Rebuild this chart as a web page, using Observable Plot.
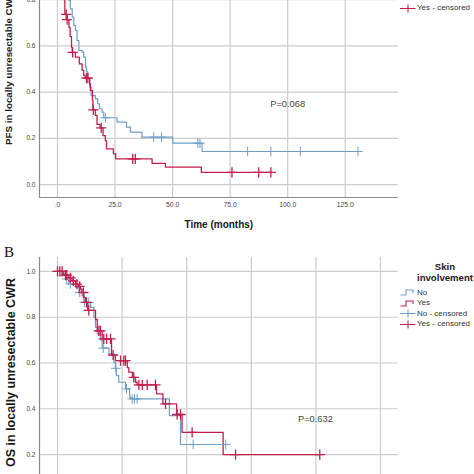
<!DOCTYPE html>
<html><head><meta charset="utf-8">
<script src="https://cdn.jsdelivr.net/npm/d3@7"></script>
<script src="https://cdn.jsdelivr.net/npm/@observablehq/plot@0.6"></script>
<style>
html,body{margin:0;padding:0;background:#fff;}
#wrap{position:relative;width:474px;height:474px;overflow:hidden;background:#fff;font-family:"Liberation Sans",Arial,sans-serif;}
#wrap svg.plotsvg{position:absolute;left:0;}
.ptop g[aria-label="x-axis label"] text{font-size:10px;font-weight:bold;fill:#1a1a1a;}
.ptop g[aria-label="y-axis label"] text{font-size:9.8px;font-weight:bold;fill:#1a1a1a;}
.pbot g[aria-label="y-axis label"] text{font-size:12.5px;font-weight:bold;fill:#1a1a1a;}
.lg{position:absolute;white-space:nowrap;color:#333;font-size:8px;line-height:10px;}
.lgt{position:absolute;white-space:nowrap;color:#1a1a1a;font-size:9.6px;font-weight:bold;line-height:11px;text-align:center;width:80px;}
.lgi{position:absolute;}
#blabel{position:absolute;left:4px;top:244px;font-family:"Liberation Serif","DejaVu Serif",serif;font-size:15px;color:#111;}
</style></head><body><div id="wrap"></div>
<script>
// ---------- data ----------
const groups = ["No", "Yes"];
const groupColors = ["#6f9fc8", "#c21f4c"];
const xTicks = [0, 25, 50, 75, 100, 125];
const yTicksTop = [0, 0.2, 0.4, 0.6, 0.8];      // 1.0 lies above the cropped top edge
const yTicksBottom = [0.2, 0.4, 0.6, 0.8, 1.0]; // 0.0 lies below the cropped bottom edge
const legendTitle = ["Skin", "involvement"];
const legendItems = ["No", "Yes", "No - censored", "Yes - censored"];

// PFS panel (A)
const pfsTitleX = "Time (months)";
const pfsTitleY = "PFS in locally unresectable CWR";
const pfsP = "P=0.068";
const pfsNoTime = [0, 0.5, 1.2, 2, 2.8, 3.5, 4.2, 4.9, 5.6, 6.4, 7.1, 7.8, 8.5, 9.3, 10.7, 11.4, 12.2, 12.6, 13.2, 14.0, 14.6, 16.5, 17.5, 18.2, 19.4, 20.1, 25.9, 30.0, 31.7, 36.7, 50.1, 62.8];
const pfsNoSurv = [1, 0.985, 0.97, 0.94, 0.91, 0.87, 0.84, 0.797, 0.76, 0.724, 0.688, 0.667, 0.623, 0.58, 0.573, 0.551, 0.508, 0.487, 0.458, 0.421, 0.385, 0.371, 0.349, 0.328, 0.313, 0.289, 0.27, 0.248, 0.227, 0.205, 0.179, 0.143];
const pfsNoCens = [20.8, 41.8, 45.2, 61.0, 61.9, 82.6, 92.7, 105.5, 130.5];
const pfsYesTime = [0, 0.5, 1, 1.5, 2, 2.4, 2.7, 3.2, 4.2, 5.0, 5.5, 6.1, 6.4, 7.8, 9.5, 10.7, 11.4, 12.0, 14.0, 14.3, 15.2, 15.4, 16.5, 17.2, 18.5, 19.8, 20.8, 21.3, 24.3, 25.3, 41.1, 46.9, 62.5];
const pfsYesSurv = [1, 0.98, 0.96, 0.93, 0.89, 0.85, 0.8, 0.736, 0.713, 0.68, 0.64, 0.594, 0.572, 0.551, 0.522, 0.494, 0.472, 0.46, 0.436, 0.407, 0.364, 0.323, 0.299, 0.26, 0.245, 0.212, 0.19, 0.154, 0.133, 0.111, 0.092, 0.075, 0.053];
const pfsYesCens = [3.8, 4.2, 6.6, 12.6, 13.2, 15.6, 19.0, 32.7, 33.8, 75.8, 87.4, 92.7];

// OS panel (B)
const osTitleY = "OS in locally unresectable CWR";
const osP = "P=0.632";
const osNoTime = [0, 1.8, 3.1, 4.4, 7.0, 8.3, 9.5, 10.2, 12.8, 14.1, 14.7, 15.4, 16.6, 17.3, 19.9, 21.8, 22.4, 22.8, 23.7, 26.3, 27.9, 28.6, 43.3, 47.6];
const osNoSurv = [1, 0.988, 0.967, 0.945, 0.93, 0.908, 0.894, 0.865, 0.843, 0.8, 0.756, 0.727, 0.7, 0.665, 0.64, 0.603, 0.577, 0.545, 0.516, 0.487, 0.45, 0.443, 0.37, 0.244];
const osNoCens = [3.6, 5.0, 8.6, 10.4, 12.1, 17.7, 22.6, 26.7, 28.9, 29.8, 30.8, 52.5, 65.1];
const osYesTime = [0, 2.4, 4.4, 5.6, 7.0, 8.0, 8.9, 9.5, 10.2, 10.8, 11.7, 14.7, 15.4, 17.3, 20.9, 22.4, 27.0, 27.6, 29.0, 30.2, 30.8, 38.3, 40.8, 46.1, 48.2, 64.1];
const osYesSurv = [1, 0.984, 0.972, 0.959, 0.945, 0.935, 0.923, 0.908, 0.887, 0.865, 0.83, 0.79, 0.74, 0.705, 0.635, 0.61, 0.58, 0.56, 0.537, 0.516, 0.504, 0.465, 0.421, 0.375, 0.297, 0.2];
const osYesCens = [0, 0.9, 1.8, 3.1, 3.6, 5.0, 6.1, 7.5, 8.6, 10.0, 11.2, 12.1, 16.0, 16.6, 17.9, 19.0, 20.5, 21.5, 24.4, 25.7, 26.3, 29.5, 31.5, 32.8, 34.7, 37.9, 41.8, 46.3, 47.6, 52.1, 68.9, 101.5];

// ---------- helpers ----------
function km(times, surv, cens, group) {
  const end = Math.max(times[times.length - 1], ...cens);
  const pts = times.map((t, i) => ({t, s: surv[i], group}));
  pts.push({t: end, s: surv[surv.length - 1], group});
  const at = t => { let v = surv[0]; for (let i = 0; i < times.length; i++) if (times[i] <= t) v = surv[i]; return v; };
  const cs = cens.map(t => ({t, s: at(t), group}));
  return {pts, cs};
}
const fmtX = d => d === 0 ? ".0" : d.toFixed(1);
const fmtY = d => d.toFixed(1);

function panel(opts) {
  const no = km(opts.noT, opts.noS, opts.noC, "No");
  const yes = km(opts.yesT, opts.yesS, opts.yesC, "Yes");
  const xd = opts.xDomain, yd = opts.yDomain;
  const marks = [
    Plot.gridX(xTicks, {stroke: "#cccccc", strokeOpacity: 1, strokeWidth: 1.2}),
    Plot.gridY(opts.yTicks, {stroke: "#cccccc", strokeOpacity: 1, strokeWidth: 1.2}),
    Plot.ruleX([xd[0]], {stroke: "#8a8a8a", strokeWidth: 1.2}),
    Plot.ruleY([yd[0]], {stroke: "#8a8a8a", strokeWidth: 1.2}),
    Plot.axisY(opts.yTicks, {tickSize: 0, tickPadding: 4, fontSize: 6.5, fill: "#444", tickFormat: fmtY,
      label: opts.yLabel, labelAnchor: "center", labelOffset: opts.yLabelOffset, labelArrow: "none"}),
    Plot.line(no.pts, {x: "t", y: "s", stroke: "group", curve: "step-after", strokeWidth: 1.2}),
    Plot.line(yes.pts, {x: "t", y: "s", stroke: "group", curve: "step-after", strokeWidth: 1.3}),
    Plot.dot(no.cs, {x: "t", y: "s", stroke: "group", symbol: "plus", r: 3.2, strokeWidth: 1}),
    Plot.dot(yes.cs, {x: "t", y: "s", stroke: "group", symbol: "plus", r: 3.4, strokeWidth: 1.3}),
    Plot.text(opts.pLabel, {x: d => d.t, y: d => d.s, text: d => d.label, fontSize: 9.3, fill: "#444"})
  ];
  if (opts.xLabel) {
    marks.splice(4, 0, Plot.axisX(xTicks, {tickSize: 0, tickPadding: 4.5, fontSize: 6.8, fill: "#444", tickFormat: fmtX,
      label: opts.xLabel, labelAnchor: "center", labelOffset: 30, labelArrow: "none"}));
  } else {
    marks.splice(4, 0, Plot.axisX({ticks: [], label: null}));
  }
  return Plot.plot({
    className: opts.cls,
    width: 474,
    height: opts.height,
    marginLeft: 39, marginRight: 76.3, marginTop: 0, marginBottom: 33,
    style: {fontFamily: "'Liberation Sans', Arial, sans-serif", background: "transparent", overflow: "visible"},
    x: {domain: xd},
    y: {domain: yd},
    color: {domain: groups, range: groupColors},
    marks
  });
}

const wrap = document.getElementById("wrap");

const topSvg = panel({
  cls: "ptop", height: 291,
  xDomain: [-7.8, 148], yDomain: [-0.056, 1.06], yTicks: yTicksTop,
  noT: pfsNoTime, noS: pfsNoSurv, noC: pfsNoCens,
  yesT: pfsYesTime, yesS: pfsYesSurv, yesC: pfsYesCens,
  xLabel: pfsTitleX, yLabel: pfsTitleY, yLabelOffset: 34,
  pLabel: [{t: 100, s: 0.35, label: pfsP}]
});
topSvg.classList.add("plotsvg");
topSvg.style.top = "-61px";
wrap.appendChild(topSvg);

const botSvg = panel({
  cls: "pbot", height: 263,
  xDomain: [-6.97, 131.85], yDomain: [0.056, 1.061], yTicks: yTicksBottom,
  noT: osNoTime, noS: osNoSurv, noC: osNoCens,
  yesT: osYesTime, yesS: osYesSurv, yesC: osYesCens,
  xLabel: null, yLabel: osTitleY, yLabelOffset: 33,
  pLabel: [{t: 99.8, s: 0.356, label: osP}]
});
botSvg.classList.add("plotsvg");
botSvg.style.top = "256.7px";
wrap.appendChild(botSvg);

// "B" panel label
const b = document.createElement("div");
b.id = "blabel"; b.textContent = "B";
wrap.appendChild(b);

// legends
function legend(shift, firstItem, withTitle) {
  if (withTitle) {
    const titleY = [266.7, 277.3];
    legendTitle.forEach((t, i) => {
      const d = document.createElement("div");
      d.className = "lgt"; d.textContent = t;
      d.style.left = "405px"; d.style.top = (titleY[i] + shift - 5.5) + "px";
      wrap.appendChild(d);
    });
  }
  const itemY = [292.7, 303.3, 313.6, 324.3];
  legendItems.forEach((t, i) => {
    if (i < firstItem) return;
    const y = itemY[i] + shift;
    const color = groupColors[i % 2];
    const ic = document.createElementNS("http://www.w3.org/2000/svg", "svg");
    ic.setAttribute("width", 16); ic.setAttribute("height", 9);
    ic.setAttribute("class", "lgi");
    ic.style.left = "400px"; ic.style.top = (y - 4.5) + "px";
    const p = document.createElementNS("http://www.w3.org/2000/svg", "path");
    p.setAttribute("d", i < 2 ? "M0.5,7 H6 V2 H13 V5" : "M0,4.5 H15.5 M8,0.5 V8.5");
    p.setAttribute("fill", "none"); p.setAttribute("stroke", color); p.setAttribute("stroke-width", "1.1");
    ic.appendChild(p);
    wrap.appendChild(ic);
    const d = document.createElement("div");
    d.className = "lg"; d.textContent = t;
    d.style.left = "417px"; d.style.top = (y - 5) + "px";
    wrap.appendChild(d);
  });
}
legend(-316.3, 3, false); // only the last entry of panel A's legend is inside the crop
legend(0, 0, true);
</script></body></html>
